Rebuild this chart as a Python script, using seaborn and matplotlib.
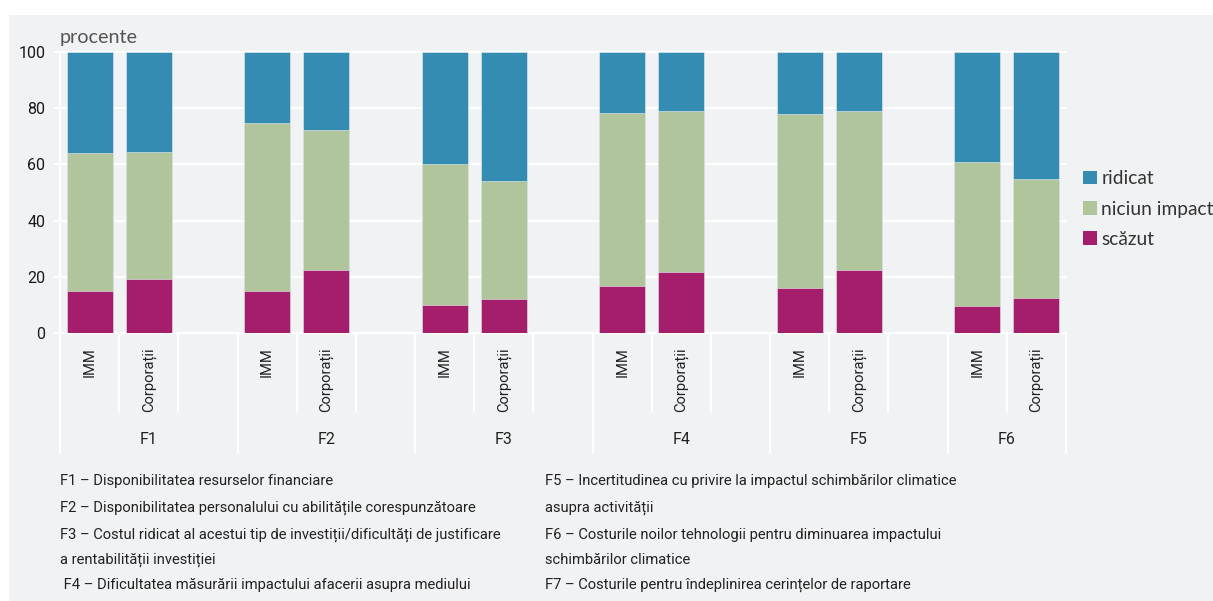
import matplotlib
matplotlib.use("Agg")
import matplotlib.pyplot as plt
from matplotlib.patches import Rectangle, Patch
import seaborn as sns
import pandas as pd
import numpy as np

# ---------------- data ----------------
factors = ["F1", "F2", "F3", "F4", "F5", "F6"]
firm_types = ["IMM", "Corporații"]
scazut_imm = [14.8, 14.8, 9.8, 16.6, 16.0, 9.7]
niciun_imm = [49.1, 59.9, 50.5, 61.7, 62.1, 51.0]
ridicat_imm = [36.1, 25.3, 39.7, 21.7, 21.9, 39.3]
scazut_corp = [19.2, 22.3, 12.1, 21.8, 22.3, 12.6]
niciun_corp = [45.2, 49.8, 42.1, 57.3, 56.7, 42.2]
ridicat_corp = [35.6, 27.9, 45.8, 20.9, 21.0, 45.2]
series_names = ["ridicat", "niciun impact", "scăzut"]
colors = {"ridicat": "#358cb3", "niciun impact": "#b0c59c", "scăzut": "#a51e6b"}
yticks = [0, 20, 40, 60, 80, 100]
footnotes_left = [
    "F1 – Disponibilitatea resurselor financiare",
    "F2 – Disponibilitatea personalului cu abilitățile corespunzătoare",
    "F3 – Costul ridicat al acestui tip de investiții/dificultăți de justificare",
    "a rentabilității investiției",
    " F4 – Dificultatea măsurării impactului afacerii asupra mediului",
]
footnotes_right = [
    "F5 – Incertitudinea cu privire la impactul schimbărilor climatice",
    "asupra activității",
    "F6 – Costurile noilor tehnologii pentru diminuarea impactului",
    "schimbărilor climatice",
    "F7 – Costurile pentru îndeplinirea cerințelor de raportare",
]

# ---------------- table ----------------
rows = []
order = []
for i, f in enumerate(factors):
    for t, (s, n, r) in zip(firm_types, [(scazut_imm, niciun_imm, ridicat_imm),
                                        (scazut_corp, niciun_corp, ridicat_corp)]):
        key = f"{f}|{t}"
        order.append(key)
        rows.append({"slot": key, "factor": f, "type": t,
                     "scăzut": s[i], "niciun impact": n[i], "ridicat": r[i]})
    if i < len(factors) - 1:
        order.append(f"gap{i}")
df = pd.DataFrame(rows)
df["top_scazut"] = df["scăzut"]
df["top_niciun"] = df["scăzut"] + df["niciun impact"]
df["top_ridicat"] = df["top_niciun"] + df["ridicat"]

# ---------------- style ----------------
BG = "#f1f2f4"
sns.set_theme(style="white", rc={"axes.facecolor": BG, "figure.facecolor": "white"})
cond = ["Roboto", "DejaVu Sans"]
reg = ["Lato", "DejaVu Sans"]
plt.rcParams["font.family"] = cond

W, H = 1213, 601
fig = plt.figure(figsize=(W / 100, H / 100), dpi=100)
fig.patches.append(Rectangle((9 / W, 0), 1, (H - 15) / H, transform=fig.transFigure,
                             facecolor=BG, edgecolor="none", zorder=-5))

x0, x1, ytop, ybot = 60, 1066, 52, 333
ax = fig.add_axes([x0 / W, (H - ybot) / H, (x1 - x0) / W, (ybot - ytop) / H])
ax.set_zorder(1)
ax.set_facecolor(BG)

for col, name in [("top_ridicat", "ridicat"), ("top_niciun", "niciun impact"), ("top_scazut", "scăzut")]:
    sns.barplot(data=df, x="slot", y=col, order=order, color=colors[name], width=0.78,
                saturation=1, edgecolor="#e8eef2", linewidth=0.4, ax=ax, zorder=3)

ax.set_xlim(-0.5, len(order) - 0.5)
ax.set_ylim(0, 100)
ax.set_yticks(yticks)
ax.set_yticklabels([str(v) for v in yticks], fontsize=11.5, color="#1a1a1a")
ax.yaxis.grid(True, color="white", linewidth=1.6)
for gl in ax.get_ygridlines():
    gl.set_clip_on(False)
ax.set_axisbelow(True)
ax.tick_params(axis="y", length=4.5, width=1.5, color="white", pad=6, left=True)
for s in ["top", "right", "bottom"]:
    ax.spines[s].set_visible(False)
ax.spines["left"].set_color("white")
ax.spines["left"].set_linewidth(1.5)
ax.set_xlabel("")
ax.set_ylabel("")

xlabels = [k.split("|")[1] if "|" in k else "" for k in order]
ax.set_xticks(range(len(order)))
ax.set_xticklabels(xlabels, rotation=90, fontsize=10.6, color="#222222")
ax.tick_params(axis="x", length=0, pad=10)

# separators below the axis
ah = ybot - ytop
short_y = -(412 - ybot) / ah
long_y = -(453 - ybot) / ah
trans = ax.get_xaxis_transform()
n = len(order)
for b in np.arange(-0.5, n, 1.0):
    is_long = (b + 0.5) % 3 == 0 or b == n - 0.5
    ax.plot([b, b], [0, long_y if is_long else short_y], color="white", lw=1.5,
            transform=trans, clip_on=False, zorder=2)
for i, f in enumerate(factors):
    c = 3 * i + (1 if i < len(factors) - 1 else 0.5)
    ax.text(c, -(439 - ybot) / ah, f, transform=trans, ha="center", va="center",
            fontsize=11.5, color="#222222")

# "procente"
fig.text(60 / W, 1 - 38 / H, "procente", fontsize=14.2, color="#555555", family=reg,
         ha="left", va="center")

# legend
handles = [Patch(facecolor=colors[s], edgecolor="none") for s in series_names]
leg = fig.legend(handles, series_names, loc="center left",
                 bbox_to_anchor=(1066 / W, 1 - 209 / H), frameon=False,
                 prop={"family": reg, "size": 13.8}, handlelength=0.7, handleheight=0.7,
                 handletextpad=0.25, labelspacing=0.7, labelcolor="#333333")

# footnotes
ys = [481, 508, 535, 560, 585]
for y, t in zip(ys, footnotes_left):
    fig.text(60 / W, 1 - y / H, t, fontsize=10.6, color="#222222", ha="left", va="center")
for y, t in zip(ys, footnotes_right):
    fig.text(545 / W, 1 - y / H, t, fontsize=10.6, color="#222222", ha="left", va="center")

fig.savefig("out.png", dpi=100, facecolor="white")
